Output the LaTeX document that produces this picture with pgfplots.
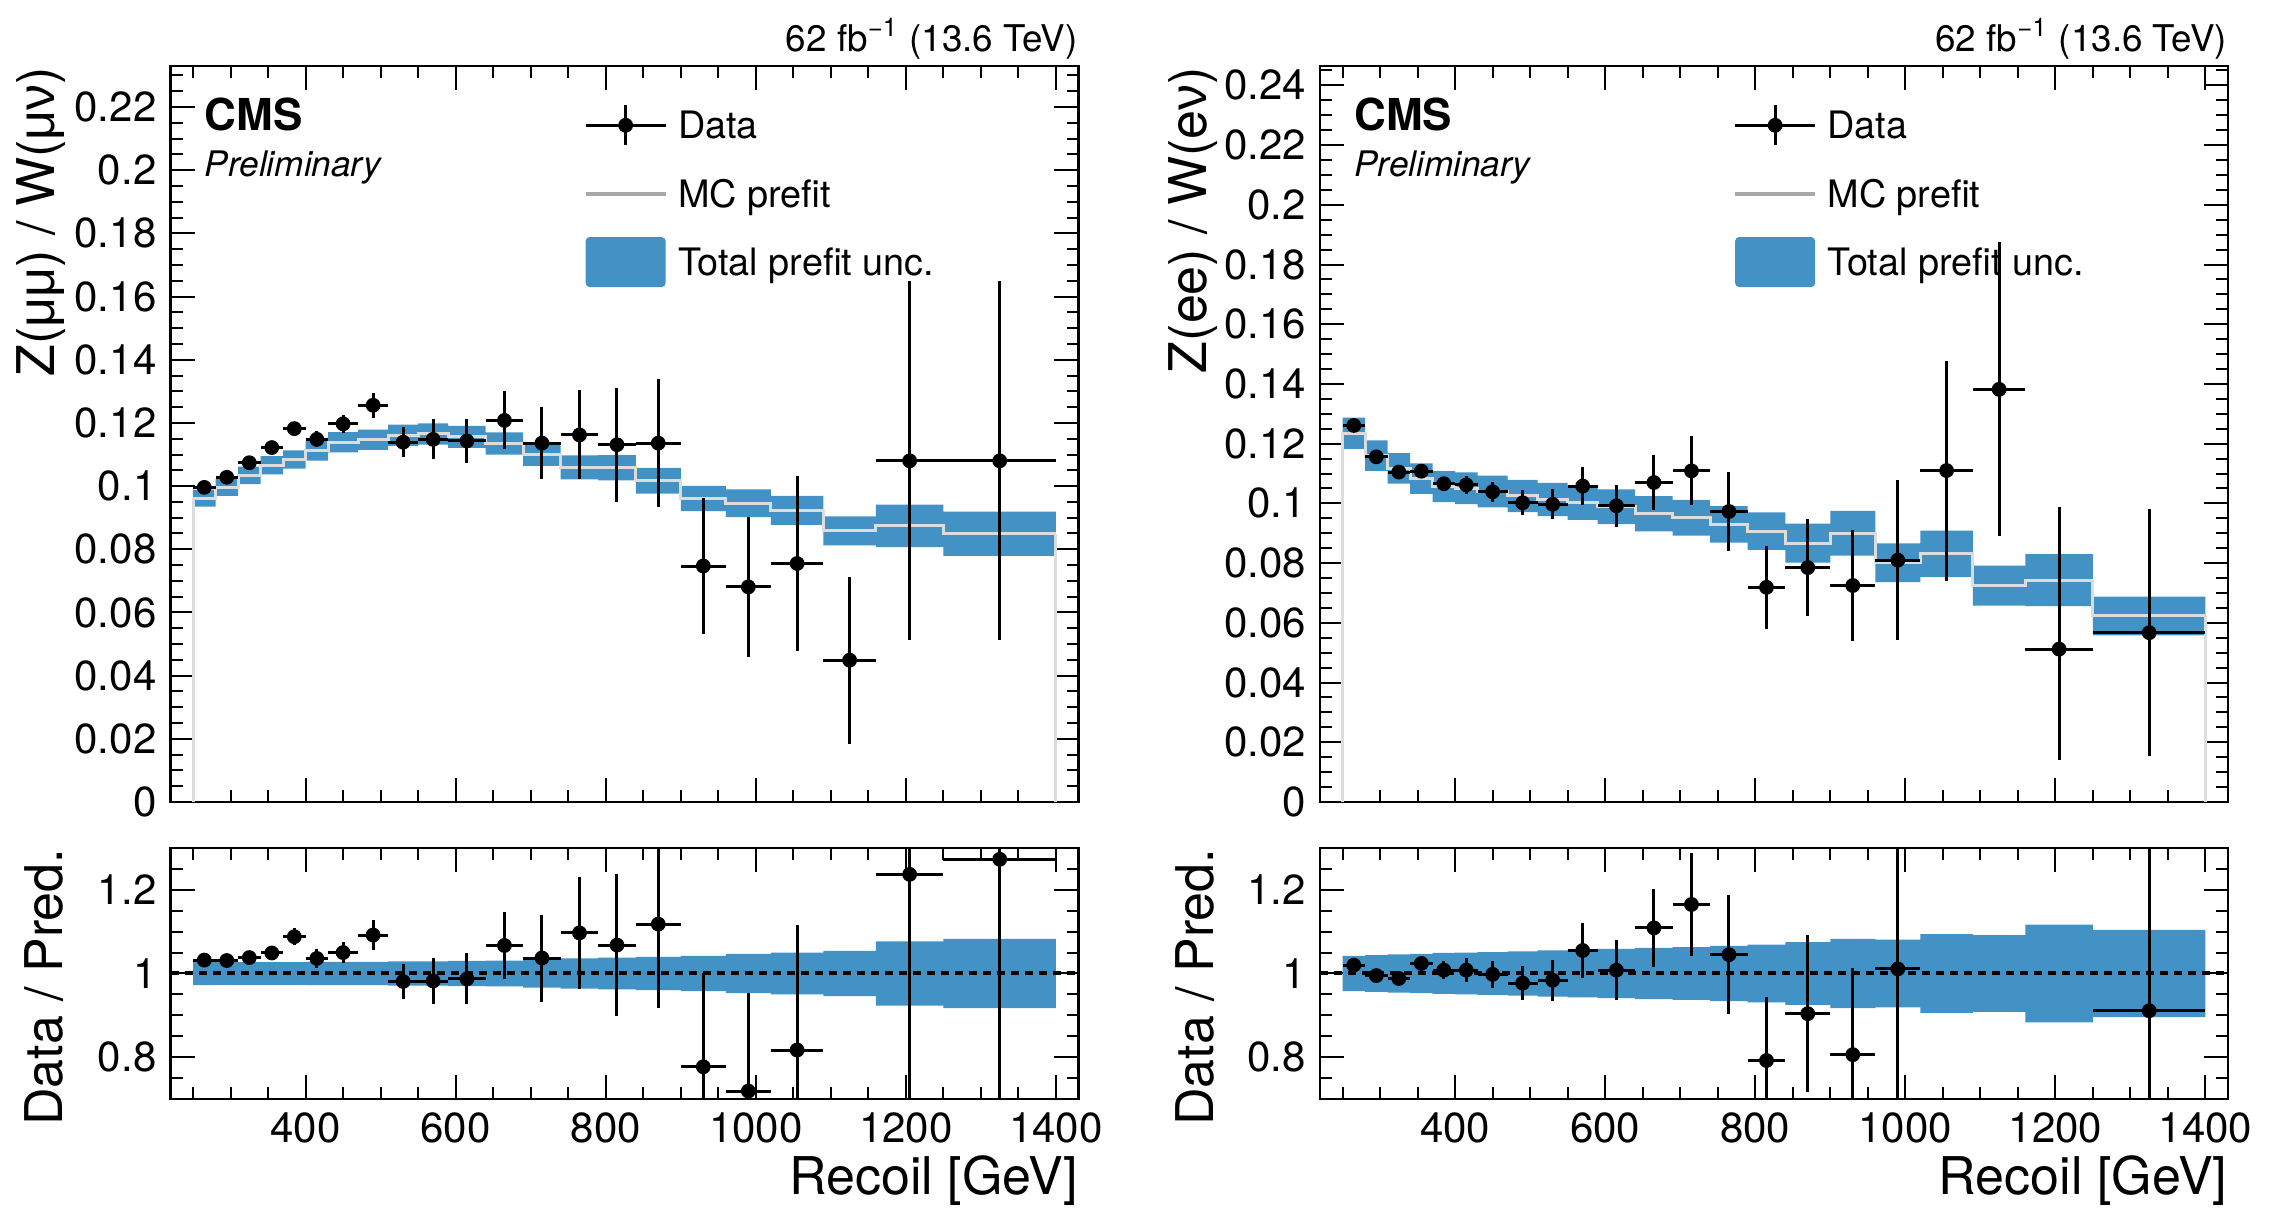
\documentclass[border=0pt]{standalone}
\usepackage{fontspec}
\setmainfont{TeX Gyre Heros}
\newfontfamily\greekfont{Liberation Sans}
\usepackage{pgfplots}
\usepackage{pgfplotstable}
\usepgfplotslibrary{fillbetween}
\pgfplotsset{compat=1.18}

\definecolor{bandblue}{HTML}{4292C6}
\definecolor{mcline}{HTML}{DCDCDC}
\definecolor{mcleg}{HTML}{A8A8A8}

% ---------------- Z(mumu)/W(munu) ----------------
\pgfplotstableread{
edge mc lo hi rlo rhi
250 0.0962 0.0935 0.0989 0.972 1.028
280 0.0996 0.0969 0.1023 0.973 1.027
310 0.1034 0.1006 0.1062 0.973 1.027
340 0.1066 0.1037 0.1095 0.973 1.027
370 0.1084 0.1055 0.1113 0.973 1.027
400 0.1112 0.1081 0.1143 0.972 1.028
430 0.1139 0.1107 0.1171 0.972 1.028
470 0.1147 0.1115 0.1179 0.972 1.028
510 0.1161 0.1127 0.1195 0.971 1.029
550 0.1165 0.1131 0.1199 0.971 1.029
590 0.1156 0.1121 0.1191 0.970 1.030
640 0.1135 0.1100 0.1170 0.969 1.031
690 0.1101 0.1064 0.1138 0.966 1.034
740 0.1059 0.1021 0.1097 0.964 1.036
790 0.1058 0.1018 0.1098 0.962 1.038
840 0.1017 0.0976 0.1058 0.960 1.040
900 0.0961 0.0921 0.1001 0.958 1.042
960 0.0946 0.0902 0.0990 0.953 1.047
1020 0.0923 0.0877 0.0969 0.950 1.050
1090 0.0858 0.0812 0.0904 0.946 1.054
1160 0.0874 0.0807 0.0941 0.923 1.077
1250 0.0849 0.0779 0.0919 0.917 1.083
1400 0.0849 0.0779 0.0919 0.917 1.083
}\bandmm

\pgfplotstableread{
x ex y eyp eym
265 15 0.0996 0.0012 0.0012
295 15 0.1028 0.0013 0.0013
325 15 0.1074 0.0015 0.0015
355 15 0.1122 0.0017 0.0017
385 15 0.1182 0.0022 0.0022
415 15 0.1148 0.0025 0.0025
450 20 0.1197 0.0028 0.0028
490 20 0.1256 0.0040 0.0040
530 20 0.1139 0.0048 0.0048
570 20 0.1148 0.0063 0.0063
615 25 0.1143 0.0071 0.0071
665 25 0.1208 0.0092 0.0092
715 25 0.1136 0.0114 0.0114
765 25 0.1162 0.0141 0.0141
815 25 0.1131 0.0180 0.0180
870 30 0.1136 0.0203 0.0203
930 30 0.0747 0.0214 0.0214
990 30 0.0681 0.0222 0.0222
1055 35 0.0755 0.0276 0.0276
1125 35 0.0449 0.0263 0.0265
1205 45 0.1080 0.0570 0.0568
1325 75 0.1080 0.0570 0.0568
}\datamm

\pgfplotstableread{
x ex y ey
265 15 1.032 0.012
295 15 1.031 0.013
325 15 1.038 0.015
355 15 1.049 0.016
385 15 1.088 0.021
415 15 1.036 0.023
450 20 1.050 0.025
490 20 1.092 0.035
530 20 0.981 0.041
570 20 0.982 0.054
615 25 0.987 0.061
665 25 1.067 0.081
715 25 1.037 0.104
765 25 1.097 0.133
815 25 1.068 0.170
870 30 1.118 0.200
930 30 0.777 0.223
990 30 0.719 0.235
1055 35 0.817 0.299
1205 45 1.237 0.652
1325 75 1.273 0.671
}\ratiomm

% ---------------- Z(ee)/W(enu) ----------------
\pgfplotstableread{
edge mc lo hi rlo rhi
250 0.1235 0.1183 0.1287 0.958 1.042
280 0.1160 0.1109 0.1211 0.956 1.044
310 0.1117 0.1066 0.1168 0.954 1.046
340 0.1083 0.1032 0.1134 0.953 1.047
370 0.1056 0.1004 0.1108 0.951 1.049
400 0.1051 0.0998 0.1104 0.950 1.050
430 0.1040 0.0987 0.1093 0.949 1.051
470 0.1025 0.0971 0.1079 0.947 1.053
510 0.1013 0.0957 0.1069 0.945 1.055
550 0.1002 0.0945 0.1059 0.943 1.057
590 0.0989 0.0931 0.1047 0.941 1.059
640 0.0965 0.0906 0.1024 0.939 1.061
690 0.0952 0.0892 0.1012 0.937 1.063
740 0.0930 0.0869 0.0991 0.934 1.066
790 0.0907 0.0844 0.0970 0.931 1.069
840 0.0867 0.0802 0.0932 0.925 1.075
900 0.0900 0.0825 0.0975 0.917 1.083
960 0.0801 0.0736 0.0866 0.919 1.081
1020 0.0831 0.0753 0.0909 0.906 1.094
1090 0.0725 0.0658 0.0792 0.908 1.092
1160 0.0743 0.0656 0.0830 0.883 1.117
1250 0.0623 0.0558 0.0688 0.896 1.104
1400 0.0623 0.0558 0.0688 0.896 1.104
}\bandee

\pgfplotstableread{
x ex y eyp eym
265 15 0.1261 0.0012 0.0012
295 15 0.1156 0.0015 0.0015
325 15 0.1105 0.0016 0.0016
355 15 0.1108 0.0016 0.0016
385 15 0.1066 0.0022 0.0022
415 15 0.1062 0.0030 0.0030
450 20 0.1039 0.0034 0.0034
490 20 0.1002 0.0042 0.0042
530 20 0.0997 0.0050 0.0050
570 20 0.1058 0.0065 0.0065
615 25 0.0992 0.0070 0.0070
665 25 0.1070 0.0091 0.0091
715 25 0.1109 0.0116 0.0116
765 25 0.0973 0.0133 0.0133
815 25 0.0719 0.0138 0.0138
870 30 0.0785 0.0163 0.0163
930 30 0.0725 0.0187 0.0187
990 30 0.0810 0.0268 0.0268
1055 35 0.1110 0.0368 0.0370
1125 35 0.1382 0.0493 0.0490
1205 45 0.0512 0.0476 0.0370
1325 75 0.0567 0.0413 0.0412
}\dataee

\pgfplotstableread{
x ex y ey
265 15 1.020 0.010
295 15 0.995 0.013
325 15 0.988 0.014
355 15 1.024 0.015
385 15 1.008 0.021
415 15 1.008 0.029
450 20 0.998 0.033
490 20 0.977 0.041
530 20 0.984 0.049
570 20 1.055 0.065
615 25 1.008 0.071
665 25 1.109 0.094
715 25 1.165 0.122
765 25 1.045 0.143
815 25 0.792 0.152
870 30 0.904 0.188
930 30 0.806 0.208
990 30 1.011 0.335
1325 75 0.911 0.663
}\ratioee

\pgfplotsset{
  cmsaxis/.style={
    scale only axis, width=227pt,
    xmin=220, xmax=1430,
    xtick={400,600,800,1000,1200,1400},
    minor xtick={250,300,...,1400},
    tick align=inside, tick pos=both,
    major tick length=6pt, minor tick length=3pt,
    tick style={black, line width=0.5pt},
    axis line style={line width=0.7pt},
    tick label style={font=\fontsize{10.5}{12}\selectfont},
    /pgf/number format/assume math mode=true,
    /pgf/number format/1000 sep={},
    scaled y ticks=false,
    yticklabel style={/pgf/number format/fixed, /pgf/number format/precision=2},
    label style={font=\fontsize{13}{15}\selectfont, inner sep=0pt},
    clip mode=individual,
  },
  dataerr/.style={black, only marks, mark=*, mark size=1.65pt,
    mark options={fill=black}, forget plot,
    error bars/.cd, x dir=both, x explicit, y dir=both, y explicit,
    error mark=none, error bar style={line width=0.75pt, black}},
  cmslegend/.style={
    legend cell align=left,
    legend style={at={(axis description cs:0.455,0.9534)}, anchor=north west,
      draw=none, fill=none, inner sep=0pt, outer sep=0pt,
      font=\fontsize{9.45}{11}\selectfont, row sep=4.6pt, column sep=2.6pt,
      nodes={inner sep=0pt, text height=6.8pt, text depth=0pt}},
  },
}

\newcommand{\cmslabels}{%
  \node[anchor=base west, inner sep=0pt, font=\bfseries\fontsize{11}{13}\selectfont]
    at (rel axis cs:0.0369,0.9126) {CMS};
  \node[anchor=base west, inner sep=0pt, font=\itshape\fontsize{8.8}{10}\selectfont]
    at (rel axis cs:0.0369,0.850) {Preliminary};
  \node[anchor=base east, inner sep=0pt, font=\fontsize{9.2}{11}\selectfont]
    at (rel axis cs:1,1) [yshift=3.6pt] {62 fb\textsuperscript{−1} (13.6 TeV)};
}

\newcommand{\cmslegendentries}{%
  \addlegendimage{legend image code/.code={
    \path[draw=none, fill=none] (0pt,-6.25pt) rectangle (20pt,6.25pt);
    \draw[black, line width=0.75pt] (0pt,0pt) -- (20pt,0pt);
    \draw[black, line width=0.75pt] (10pt,-5pt) -- (10pt,5pt);
    \draw[black] plot[mark=*, mark size=1.65pt, mark options={fill=black}] coordinates {(10pt,0pt)};
  }}
  \addlegendentry{Data}
  \addlegendimage{legend image code/.code={
    \path[draw=none, fill=none] (0pt,-6.25pt) rectangle (20pt,6.25pt);
    \draw[mcleg, line width=1pt] (0pt,0pt) -- (20pt,0pt);
  }}
  \addlegendentry{MC prefit}
  \addlegendimage{legend image code/.code={
    \fill[bandblue, draw=none, rounded corners=1pt] (0pt,-6.25pt) rectangle (20pt,6.25pt);
  }}
  \addlegendentry{Total prefit unc.}
}

\begin{document}
\begin{tikzpicture}

% ===== left, top =====
\begin{axis}[cmsaxis, cmslegend,
  at={(42.625pt,105pt)}, anchor=south west, height=184pt,
  ymin=0, ymax=0.233,
  ytick={0,0.02,0.04,0.06,0.08,0.1,0.12,0.14,0.16,0.18,0.2,0.22},
  minor ytick={0,0.005,...,0.231},
  xticklabels={},
  ylabel={Z({\greekfont μμ}) / W({\greekfont μν})},
  ylabel style={at={(axis description cs:-0.1277,1)}, anchor=base east},
]
\cmslegendentries
\addplot[const plot mark left, draw=none, name path=mmhi, forget plot] table[x=edge, y=hi] {\bandmm};
\addplot[const plot mark left, draw=none, name path=mmlo, forget plot] table[x=edge, y=lo] {\bandmm};
\addplot[bandblue, forget plot] fill between[of=mmhi and mmlo];
\addplot[const plot mark left, mcline, line width=0.75pt, forget plot] table[x=edge, y=mc] {\bandmm};
\addplot[mcline, line width=0.75pt, forget plot] coordinates {(250,0) (250,0.0962)};
\addplot[mcline, line width=0.75pt, forget plot] coordinates {(1400,0) (1400,0.0849)};
\addplot[dataerr] table[x=x, y=y, x error=ex, y error plus=eyp, y error minus=eym] {\datamm};
\cmslabels
\end{axis}

% ===== left, ratio =====
\begin{axis}[cmsaxis,
  at={(42.625pt,30.75pt)}, anchor=south west, height=62.75pt,
  ymin=0.7, ymax=1.3,
  ytick={0.8,1,1.2},
  minor ytick={0.7,0.75,...,1.31},
  xlabel={Recoil [GeV]},
  xlabel style={at={(axis description cs:1,0)}, anchor=north east, yshift=-14pt},
  ylabel={Data / Pred.},
  ylabel style={at={(axis description cs:-0.1189,1)}, anchor=base east},
]
\addplot[const plot mark left, draw=none, name path=mmrhi, forget plot] table[x=edge, y=rhi] {\bandmm};
\addplot[const plot mark left, draw=none, name path=mmrlo, forget plot] table[x=edge, y=rlo] {\bandmm};
\addplot[bandblue, forget plot] fill between[of=mmrhi and mmrlo];
\addplot[black, line width=1pt, dash pattern=on 2pt off 1.5pt, forget plot] coordinates {(220,1) (1430,1)};
\addplot[dataerr] table[x=x, y=y, x error=ex, y error=ey] {\ratiomm};
\end{axis}

% ===== right, top =====
\begin{axis}[cmsaxis, cmslegend,
  at={(330pt,105pt)}, anchor=south west, height=184pt,
  ymin=0, ymax=0.2465,
  ytick={0,0.02,0.04,0.06,0.08,0.1,0.12,0.14,0.16,0.18,0.2,0.22,0.24},
  minor ytick={0,0.005,...,0.246},
  xticklabels={},
  ylabel={Z(ee) / W(e{\greekfont ν})},
  ylabel style={at={(axis description cs:-0.1246,1)}, anchor=base east},
]
\cmslegendentries
\addplot[const plot mark left, draw=none, name path=eehi, forget plot] table[x=edge, y=hi] {\bandee};
\addplot[const plot mark left, draw=none, name path=eelo, forget plot] table[x=edge, y=lo] {\bandee};
\addplot[bandblue, forget plot] fill between[of=eehi and eelo];
\addplot[const plot mark left, mcline, line width=0.75pt, forget plot] table[x=edge, y=mc] {\bandee};
\addplot[mcline, line width=0.75pt, forget plot] coordinates {(250,0) (250,0.1235)};
\addplot[mcline, line width=0.75pt, forget plot] coordinates {(1400,0) (1400,0.0623)};
\addplot[dataerr] table[x=x, y=y, x error=ex, y error plus=eyp, y error minus=eym] {\dataee};
\cmslabels
\end{axis}

% ===== right, ratio =====
\begin{axis}[cmsaxis,
  at={(330pt,30.75pt)}, anchor=south west, height=62.75pt,
  ymin=0.7, ymax=1.3,
  ytick={0.8,1,1.2},
  minor ytick={0.7,0.75,...,1.31},
  xlabel={Recoil [GeV]},
  xlabel style={at={(axis description cs:1,0)}, anchor=north east, yshift=-14pt},
  ylabel={Data / Pred.},
  ylabel style={at={(axis description cs:-0.1169,1)}, anchor=base east},
]
\addplot[const plot mark left, draw=none, name path=eerhi, forget plot] table[x=edge, y=rhi] {\bandee};
\addplot[const plot mark left, draw=none, name path=eerlo, forget plot] table[x=edge, y=rlo] {\bandee};
\addplot[bandblue, forget plot] fill between[of=eerhi and eerlo];
\addplot[black, line width=1pt, dash pattern=on 2pt off 1.5pt, forget plot] coordinates {(220,1) (1430,1)};
\addplot[dataerr] table[x=x, y=y, x error=ex, y error=ey] {\ratioee};
\end{axis}

\pgfresetboundingbox
\useasboundingbox (0,0) rectangle (571pt,305.5pt);
\end{tikzpicture}
\end{document}
